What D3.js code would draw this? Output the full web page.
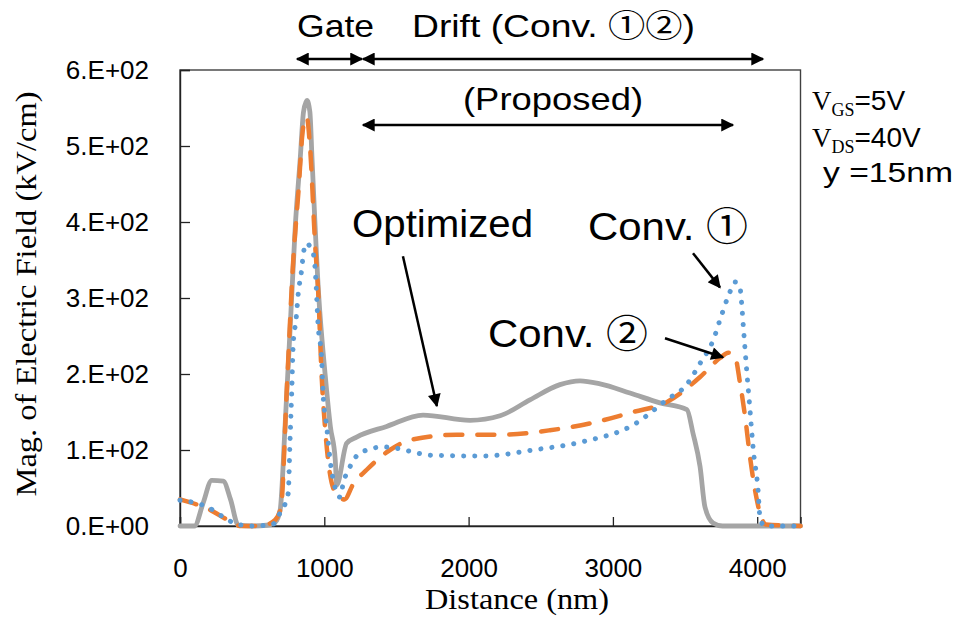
<!DOCTYPE html>
<html>
<head>
<meta charset="utf-8">
<script src="https://cdn.jsdelivr.net/npm/d3@7"></script>
<style>
  html, body { margin: 0; padding: 0; background: #fff; }
  svg { display: block; }
</style>
</head>
<body>
<svg id="chart" width="959" height="618"></svg>
<script>
// Electric field magnitude along the channel (kV/cm) vs distance (nm)
const optimizedDist = [0, 100, 160, 220, 300, 350, 404, 500, 600, 660, 694, 728, 764, 799, 833, 856, 880, 900, 915, 960, 1007, 1042, 1076, 1086, 1155, 1224, 1432, 1684, 2010, 2218, 2425, 2633, 2772, 2911, 3118, 3326, 3513, 3555, 3604, 3638, 3694, 3760, 4300];
const optimizedField = [0, 0, 30, 60, 59, 35, 1, 0, 1, 5, 21, 131, 263, 395, 483, 545, 560, 545, 483, 307, 197, 131, 87, 54, 109, 117, 131, 146, 139, 145, 166, 186, 191, 187, 175, 162, 153, 122, 78, 25, 4, 0, 0];

const conv1Dist = [0, 200, 300, 400, 500, 640, 693, 750, 762, 774, 785, 804, 820, 843, 854, 876, 900, 929, 942, 956, 982, 991, 1017, 1040, 1074, 1109, 1132, 1178, 1247, 1409, 1756, 2102, 2446, 2793, 3141, 3373, 3511, 3604, 3696, 3754, 3811, 3846, 3881, 3892, 3904, 3927, 3950, 3973, 4006, 4019, 4050, 4300];
const conv1Field = [34, 24, 12, 2, 0, 2, 17, 43, 109, 175, 241, 271, 307, 337, 357, 372, 368, 354, 321, 267, 218, 175, 130, 87, 51, 38, 57, 78, 96, 104, 93, 92, 100, 111, 133, 166, 186, 214, 245, 278, 308, 321, 313, 293, 262, 205, 153, 100, 47, 12, 0, 0];

const conv2Dist = [0, 200, 350, 420, 500, 600, 660, 700, 739, 785, 820, 854, 878, 901, 936, 958, 982, 1005, 1051, 1100, 1140, 1200, 1294, 1455, 1594, 1917, 2218, 2564, 2841, 3141, 3373, 3604, 3742, 3800, 3846, 3881, 3916, 3950, 3985, 4019, 4060, 4300];
const conv2Field = [35, 22, 6, 0, 0, 2, 8, 25, 175, 350, 438, 525, 538, 499, 372, 307, 196, 130, 57, 38, 35, 55, 74, 100, 113, 120, 120, 126, 135, 150, 163, 196, 221, 228, 223, 188, 144, 91, 47, 17, 2, 0];

const xTicks = [0, 1000, 2000, 3000, 4000];
const xTickLabels = ["0", "1000", "2000", "3000", "4000"];
const yTicks = [0, 100, 200, 300, 400, 500, 600];
const yTickLabels = ["0.E+00", "1.E+02", "2.E+02", "3.E+02", "4.E+02", "5.E+02", "6.E+02"];

const SANS = "'Liberation Sans', Arial, 'Noto Sans CJK JP', sans-serif";
const SERIF = "'Liberation Serif', 'Times New Roman', serif";

const plot = { left: 180, top: 70, right: 800.5, bottom: 526 };

const svg = d3.select("#chart");
svg.append("rect").attr("width", 959).attr("height", 618).attr("fill", "#fff");

const x = d3.scaleLinear().domain([0, 4300]).range([plot.left, plot.right]);
const y = d3.scaleLinear().domain([0, 600]).range([plot.bottom, plot.top]);

// plot frame
svg.append("rect")
  .attr("x", plot.left).attr("y", plot.top)
  .attr("width", plot.right - plot.left).attr("height", plot.bottom - plot.top)
  .attr("fill", "none").attr("stroke", "#404040").attr("stroke-width", 1.4);

// axes with inward ticks
const gy = svg.append("g")
  .attr("transform", `translate(${plot.left},0)`)
  .call(d3.axisLeft(y).tickValues(yTicks).tickSize(-10).tickPadding(31)
    .tickFormat((d, i) => yTickLabels[i]));
const gx = svg.append("g")
  .attr("transform", `translate(0,${plot.bottom})`)
  .call(d3.axisBottom(x).tickValues(xTicks).tickSize(-9).tickPadding(33)
    .tickFormat((d, i) => xTickLabels[i]));
[gx, gy].forEach(g => {
  g.select(".domain").attr("stroke", "#222").attr("stroke-width", 1.4);
  g.selectAll(".tick line").attr("stroke", "#222").attr("stroke-width", 1.3);
  g.selectAll(".tick text")
    .attr("font-family", SANS).attr("font-size", 26).attr("fill", "#000");
});

// axis titles
svg.append("text")
  .attr("transform", "translate(36,294) rotate(-90)")
  .attr("text-anchor", "middle")
  .attr("font-family", SERIF).attr("font-size", 30)
  .attr("textLength", 405).attr("lengthAdjust", "spacingAndGlyphs")
  .text("Mag. of Electric  Field (kV/cm)");
svg.append("text")
  .attr("x", 517).attr("y", 609)
  .attr("text-anchor", "middle")
  .attr("font-family", SERIF).attr("font-size", 30)
  .attr("textLength", 184).attr("lengthAdjust", "spacingAndGlyphs")
  .text("Distance (nm)");

// series
const series = [
  { dist: optimizedDist, field: optimizedField, color: "#A5A5A5", width: 4.8, dash: null },
  { dist: conv2Dist, field: conv2Field, color: "#ED7D31", width: 4.5, dash: "17,15" },
  { dist: conv1Dist, field: conv1Field, color: "#5B9BD5", width: 5, dash: "0.1,11" }
];
const line = d3.line()
  .x(d => x(d[0]))
  .y(d => y(d[1]))
  .curve(d3.curveMonotoneX);
series.forEach(s => {
  const pts = s.dist.map((d, i) => [d, s.field[i]]);
  svg.append("path")
    .datum(pts)
    .attr("d", line)
    .attr("fill", "none")
    .attr("stroke", s.color)
    .attr("stroke-width", s.width)
    .attr("stroke-linecap", "round")
    .attr("stroke-linejoin", "round")
    .attr("stroke-dasharray", s.dash);
});

// arrowhead marker
const defs = svg.append("defs");
defs.append("marker")
  .attr("id", "head")
  .attr("viewBox", "0 0 10 10")
  .attr("refX", 9).attr("refY", 5)
  .attr("markerUnits", "userSpaceOnUse")
  .attr("markerWidth", 15).attr("markerHeight", 13)
  .attr("orient", "auto-start-reverse")
  .append("path").attr("d", "M0,0 L10,5 L0,10 Z").attr("fill", "#000");

function arrow(x1, y1, x2, y2, both) {
  const p = svg.append("line")
    .attr("x1", x1).attr("y1", y1).attr("x2", x2).attr("y2", y2)
    .attr("stroke", "#000").attr("stroke-width", 2.5)
    .attr("marker-end", "url(#head)");
  if (both) p.attr("marker-start", "url(#head)");
}

// region spans above the plot
arrow(x(811), 59, x(1261), 59, true);
arrow(x(1268), 59, x(4040), 59, true);
arrow(x(1268), 125, x(3832), 125, true);

function label(txt, xx, yy, size, len, anchor) {
  svg.append("text")
    .attr("x", xx).attr("y", yy)
    .attr("text-anchor", anchor || "start")
    .attr("font-family", SANS).attr("font-size", size)
    .attr("textLength", len).attr("lengthAdjust", "spacingAndGlyphs")
    .text(txt);
}
label("Gate", 297, 37, 32, 77);
label("Drift (Conv. ①②)", 412, 37, 32, 283);
label("(Proposed)", 463, 110, 32, 180);
label("Optimized", 352, 237, 39, 181);
label("Conv. ①", 588, 240, 39, 160);
label("Conv. ②", 488, 347, 38, 160);

// pointers to the curves
arrow(x(1545), y(355), x(1780), y(158), false);
arrow(x(3555), y(359), x(3742), y(314), false);
arrow(x(3361), y(247), x(3763), y(222), false);

// bias conditions
function biasLine(sub, val, yy) {
  const t = svg.append("text").attr("x", 812).attr("y", yy);
  t.append("tspan").attr("font-family", SERIF).attr("font-size", 27).text("V");
  t.append("tspan").attr("font-family", SERIF).attr("font-size", 18).attr("dy", 6).text(sub);
  t.append("tspan").attr("font-family", SANS).attr("font-size", 28).attr("dy", -6).text(val);
}
biasLine("GS", "=5V", 110);
biasLine("DS", "=40V", 147);
label("y =15nm", 823, 182, 27, 130);
</script>
</body>
</html>
